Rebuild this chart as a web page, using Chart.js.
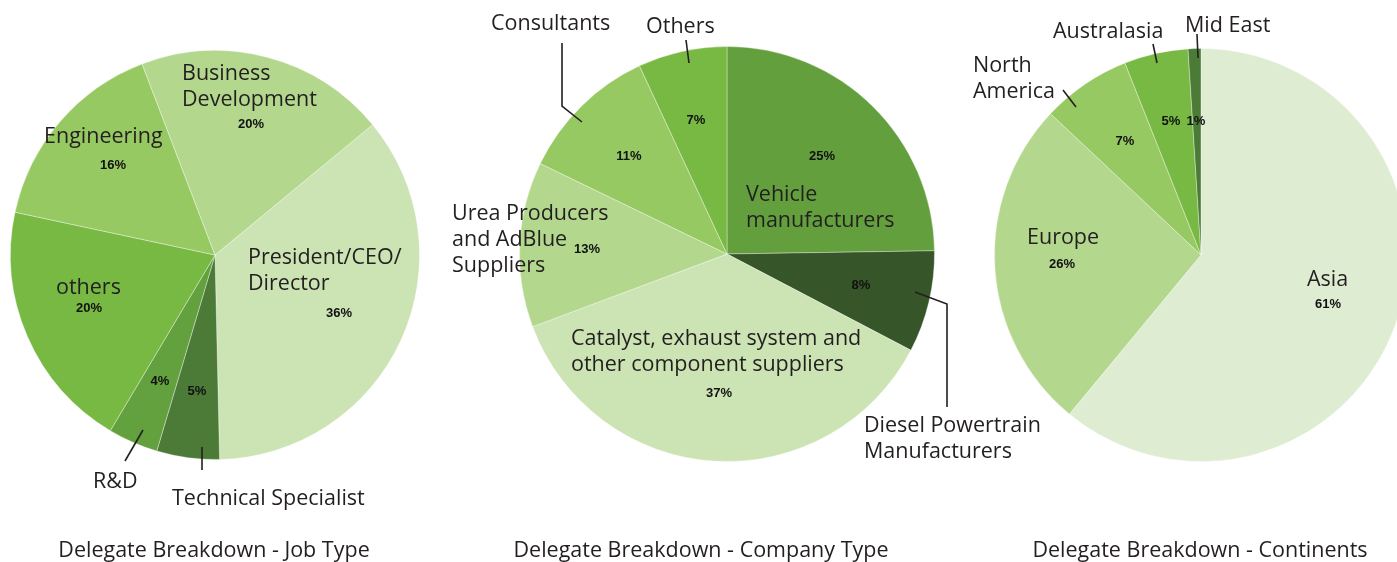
<!DOCTYPE html>
<html>
<head>
<meta charset="utf-8">
<script src="https://cdn.jsdelivr.net/npm/chart.js@4"></script>
<style>
  html, body { margin:0; padding:0; background:#fff; overflow:hidden; width:1397px; height:562px; }
  .box { position:absolute; top:0; height:562px; }
  .title { position:absolute; top:537px; font:21.5px/24px "Open Sans", sans-serif; color:#231f20; white-space:nowrap; transform:translateX(-50%); }
</style>
</head>
<body>
<div class="box" style="left:0;width:480px"><canvas id="jobChart" width="480" height="562"></canvas></div>
<div class="box" style="left:440px;width:600px"><canvas id="companyChart" width="600" height="562"></canvas></div>
<div class="box" style="left:960px;width:460px"><canvas id="continentChart" width="460" height="562"></canvas></div>
<div class="title" style="left:214px">Delegate Breakdown - Job Type</div>
<div class="title" style="left:701px">Delegate Breakdown - Company Type</div>
<div class="title" style="left:1200px">Delegate Breakdown - Continents</div>
<script>
// Job type
const jobLabels = [['President/CEO/','Director'], ['Technical Specialist'], ['R&D'], ['others'], ['Engineering'], ['Business','Development']];
const jobValues = [36, 5, 4, 20, 16, 20];
const jobColors = ['#cce3b4', '#4b7b37', '#63a03e', '#77b943', '#97c962', '#b2d78d'];

// Company type
const companyLabels = [['Vehicle','manufacturers'], ['Diesel Powertrain','Manufacturers'], ['Catalyst, exhaust system and','other component suppliers'], ['Urea Producers','and AdBlue','Suppliers'], ['Consultants'], ['Others']];
const companyValues = [25, 8, 37, 13, 11, 7];
const companyColors = ['#649f3e', '#36562a', '#cce3b4', '#b2d78d', '#97c962', '#77b943'];

// Continents
const continentLabels = [['Asia'], ['Europe'], ['North','America'], ['Australasia'], ['Mid East']];
const continentValues = [61, 26, 7, 5, 1];
const continentColors = ['#deecd2', '#b2d78d', '#97c962', '#77b943', '#4b7b37'];

// label placement relative to pie centre: name (left x, middle y), pct (centre), leader polyline
const jobPlace = [
  { name:[33,1],     pct:[124,58] },
  { name:[-43,242],  pct:[-18,136], lead:[[-13,192],[-13,215]] },
  { name:[-122,225], pct:[-55,126], lead:[[-90,206],[-72,175]] },
  { name:[-159,31],  pct:[-126,53] },
  { name:[-171,-120],pct:[-102,-90] },
  { name:[-33,-183], pct:[36,-131] }
];
const companyPlace = [
  { name:[19,-61],   pct:[95,-98] },
  { name:[137,170],  pct:[134,31], lead:[[188,38],[220,50],[220,153]] },
  { name:[-156,83],  pct:[-8,139] },
  { name:[-275,-42], pct:[-140,-5] },
  { name:[-236,-232],pct:[-98,-98], lead:[[-165,-211],[-165,-148],[-145,-132]] },
  { name:[-81,-229], pct:[-31,-134], lead:[[-41,-214],[-38,-191]] }
];
const continentPlace = [
  { name:[106,23],   pct:[127,49] },
  { name:[-174,-19], pct:[-139,9] },
  { name:[-228,-191],pct:[-76,-114], lead:[[-138,-165],[-125,-148]] },
  { name:[-148,-225],pct:[-30,-134], lead:[[-48,-211],[-44,-192]] },
  { name:[-16,-231], pct:[-5,-134], lead:[[-4,-221],[-3,-197]] }
];

const labelPlugin = {
  id:'pieLabels',
  afterDatasetsDraw(chart) {
    const place = chart.options.plugins.pieLabels.place;
    const meta = chart.getDatasetMeta(0);
    const ds = chart.data.datasets[0];
    const c = chart.ctx;
    const cx = meta.data[0].x, cy = meta.data[0].y;
    c.save();
    meta.data.forEach((arc, i) => {
      const p = place[i];
      if (p.lead) {
        c.beginPath();
        c.strokeStyle = '#231f20';
        c.lineWidth = 1.6;
        p.lead.forEach((pt, k) => k ? c.lineTo(cx+pt[0], cy+pt[1]) : c.moveTo(cx+pt[0], cy+pt[1]));
        c.stroke();
      }
      const lines = chart.data.labels[i];
      c.fillStyle = '#231f20';
      c.font = '21.5px "Open Sans", sans-serif';
      c.textAlign = 'left';
      c.textBaseline = 'middle';
      lines.forEach((t, k) => c.fillText(t, cx+p.name[0], cy+p.name[1]+2+k*26));
      c.font = 'bold 13px "Liberation Sans", Arial, sans-serif';
      c.textAlign = 'center';
      c.fillStyle = '#111';
      c.fillText(ds.data[i] + '%', cx+p.pct[0], cy+p.pct[1]);
    });
    c.restore();
  }
};

function makePie(id, labels, values, colors, place, rotation, padding) {
  return new Chart(document.getElementById(id), {
    type:'pie',
    data:{ labels, datasets:[{ data:values, backgroundColor:colors, borderColor:'rgba(255,255,255,0.35)', borderWidth:1 }] },
    options:{
      responsive:false, animation:false, rotation,
      layout:{ padding },
      plugins:{ legend:{ display:false }, tooltip:{ enabled:false }, pieLabels:{ place } }
    },
    plugins:[labelPlugin]
  });
}

makePie('jobChart', jobLabels, jobValues, jobColors, jobPlace, 50.4, { left:10, right:60, top:50, bottom:102 });
makePie('companyChart', companyLabels, companyValues, companyColors, companyPlace, 0, { left:79, right:105, top:46, bottom:100 });
makePie('continentChart', continentLabels, continentValues, continentColors, continentPlace, 0, { left:34, right:12, top:48, bottom:100 });
</script>
</body>
</html>
